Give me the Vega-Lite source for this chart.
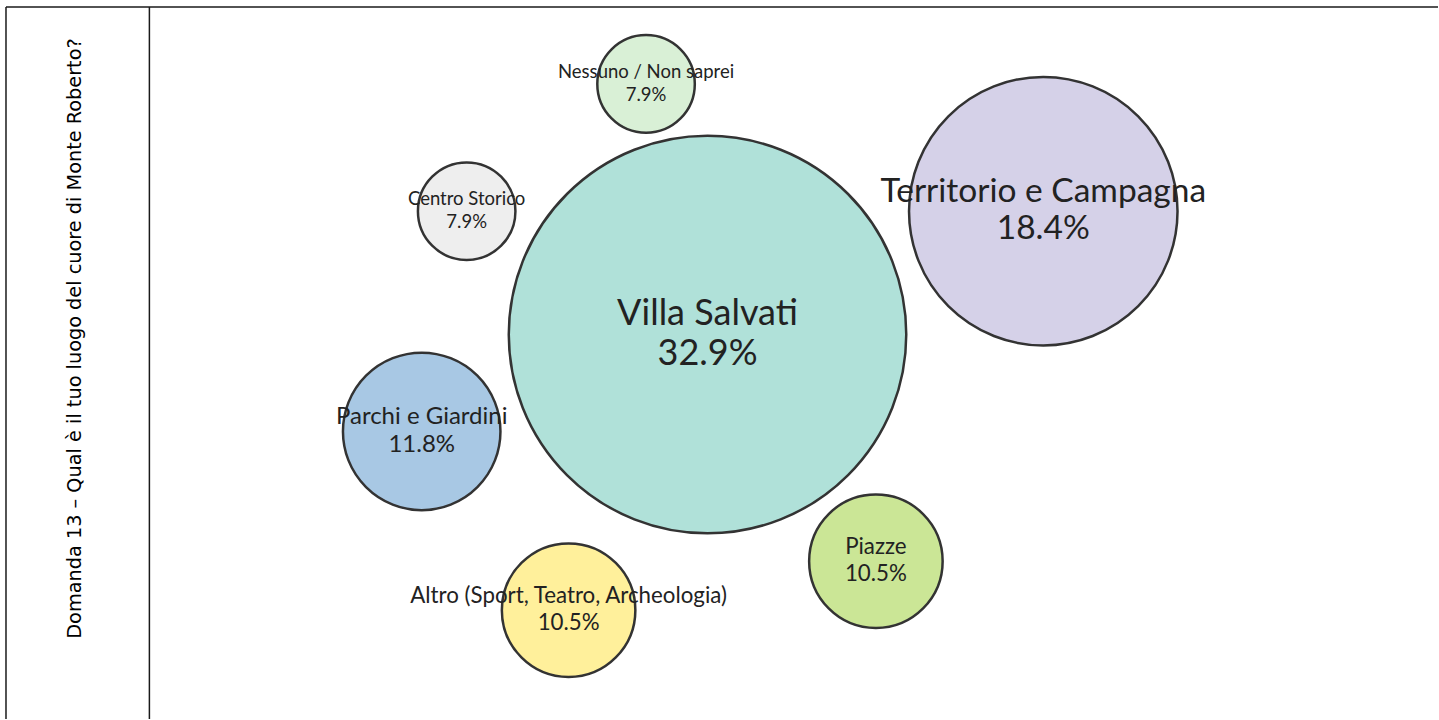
{
  "$schema": "https://vega.github.io/schema/vega-lite/v6.json",
  "width": 1439,
  "height": 720,
  "autosize": {"type": "fit", "contains": "padding"},
  "padding": 0,
  "background": "white",
  "config": {"view": {"stroke": null}},
  "datasets": {
    "bubbles": [
      {"luogo": "Villa Salvati", "pct": "32.9%", "value": 32.9, "x": 708, "y": 335},
      {"luogo": "Territorio e Campagna", "pct": "18.4%", "value": 18.4, "x": 1044, "y": 211.5},
      {"luogo": "Parchi e Giardini", "pct": "11.8%", "value": 11.8, "x": 422, "y": 432},
      {"luogo": "Piazze", "pct": "10.5%", "value": 10.5, "x": 876.5, "y": 562},
      {"luogo": "Altro (Sport, Teatro, Archeologia)", "pct": "10.5%", "value": 10.5, "x": 569, "y": 611},
      {"luogo": "Nessuno / Non saprei", "pct": "7.9%", "value": 7.9, "x": 646.5, "y": 84},
      {"luogo": "Centro Storico", "pct": "7.9%", "value": 7.9, "x": 467, "y": 211.5}
    ],
    "frame": [
      {"x": 6, "y": 7, "x2": 1439, "y2": 7},
      {"x": 6, "y": 7, "x2": 6, "y2": 720},
      {"x": 149.5, "y": 7, "x2": 149.5, "y2": 720}
    ],
    "title": [
      {"text": "Domanda 13 – Qual è il tuo luogo del cuore di Monte Roberto?", "x": 75, "y": 339}
    ]
  },
  "layer": [
    {
      "data": {"name": "frame"},
      "mark": {"type": "rule", "color": "#1a1a1a", "strokeWidth": 1.5},
      "encoding": {
        "x": {"field": "x", "type": "quantitative", "scale": {"domain": [0, 1439], "nice": false, "zero": false}, "axis": null},
        "y": {"field": "y", "type": "quantitative", "scale": {"domain": [0, 720], "nice": false, "zero": false, "reverse": true}, "axis": null},
        "x2": {"field": "x2"},
        "y2": {"field": "y2"}
      }
    },
    {
      "data": {"name": "title"},
      "mark": {"type": "text", "angle": 270, "align": "center", "baseline": "middle", "font": "DejaVu Sans", "fontSize": 19.3, "color": "#000000"},
      "encoding": {
        "x": {"field": "x", "type": "quantitative"},
        "y": {"field": "y", "type": "quantitative"},
        "text": {"field": "text"}
      }
    },
    {
      "data": {"name": "bubbles"},
      "mark": {"type": "circle", "opacity": 1, "stroke": "#333333", "strokeWidth": 2.5},
      "encoding": {
        "x": {"field": "x", "type": "quantitative"},
        "y": {"field": "y", "type": "quantitative"},
        "size": {"field": "value", "type": "quantitative", "legend": null,
          "scale": {"type": "linear", "domain": [7.9, 10.5, 11.8, 18.4, 32.9], "range": [9506, 17822, 24806, 72092, 158006]}},
        "color": {"field": "luogo", "type": "nominal", "legend": null,
          "scale": {
            "domain": ["Villa Salvati", "Territorio e Campagna", "Parchi e Giardini", "Piazze", "Altro (Sport, Teatro, Archeologia)", "Nessuno / Non saprei", "Centro Storico"],
            "range": ["#b0e1d9", "#d5d1e8", "#a8c8e4", "#cbe696", "#fff09b", "#d9f0d6", "#eeeeee"]
          }}
      }
    },
    {
      "data": {"name": "bubbles"},
      "mark": {"type": "text", "align": "center", "baseline": "bottom", "dy": -2, "font": "Lato", "color": "#222222"},
      "encoding": {
        "x": {"field": "x", "type": "quantitative"},
        "y": {"field": "y", "type": "quantitative"},
        "text": {"field": "luogo"},
        "size": {"field": "value", "type": "quantitative", "legend": null,
          "scale": {"type": "linear", "domain": [7.9, 10.5, 11.8, 18.4, 32.9], "range": [18.5, 22.3, 24, 33.5, 36]}}
      }
    },
    {
      "data": {"name": "bubbles"},
      "mark": {"type": "text", "align": "center", "baseline": "top", "dy": 2, "font": "Lato", "color": "#222222"},
      "encoding": {
        "x": {"field": "x", "type": "quantitative"},
        "y": {"field": "y", "type": "quantitative"},
        "text": {"field": "pct"},
        "size": {"field": "value", "type": "quantitative", "legend": null,
          "scale": {"type": "linear", "domain": [7.9, 10.5, 11.8, 18.4, 32.9], "range": [18.5, 22.3, 24, 33.5, 36]}}
      }
    }
  ],
  "resolve": {"scale": {"size": "independent"}}
}
